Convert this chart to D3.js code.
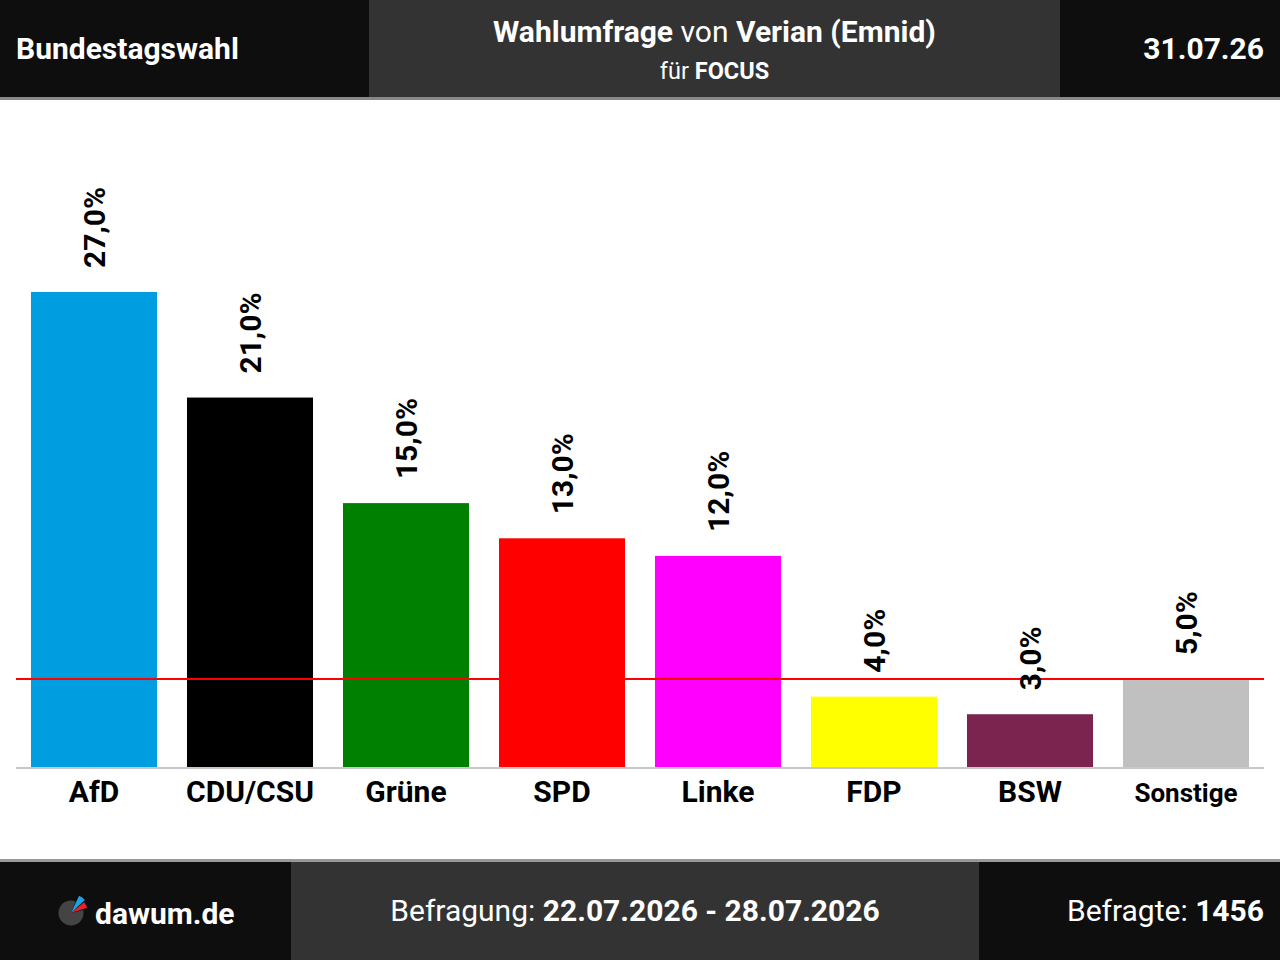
<!DOCTYPE html>
<html>
<head>
<meta charset="utf-8">
<script src="https://cdn.jsdelivr.net/npm/d3@7"></script>
<style>
  html, body { margin: 0; padding: 0; background: #fff; }
  svg { display: block; font-family: Roboto, "Noto Sans", sans-serif; }
</style>
</head>
<body>
<script>
// données du sondage
const parteien = ["AfD", "CDU/CSU", "Grüne", "SPD", "Linke", "FDP", "BSW", "Sonstige"];
const werte = [27, 21, 15, 13, 12, 4, 3, 5];
const farben = ["#009ee0", "#000000", "#008000", "#ff0000", "#ff00ff", "#ffff00", "#7b2450", "#c0c0c0"];
const huerde = 5;

const titel = "Bundestagswahl";
const datum = "31.07.26";
const institut = "Verian (Emnid)";
const auftraggeber = "FOCUS";
const zeitraum = "22.07.2026 - 28.07.2026";
const befragte = "1456";

const largeur = 1280;
const hauteur = 960;

const svg = d3.select("body")
  .append("svg")
  .attr("width", largeur)
  .attr("height", hauteur);

// l'en-tête
svg.append("rect").attr("x", 0).attr("y", 0).attr("width", largeur).attr("height", 98).attr("fill", "#0e0e0e");
svg.append("rect").attr("x", 369).attr("y", 0).attr("width", 691).attr("height", 98).attr("fill", "#333333");
svg.append("rect").attr("x", 0).attr("y", 97).attr("width", largeur).attr("height", 3).attr("fill", "#888888");

svg.append("text")
  .attr("x", 16).attr("y", 59)
  .attr("fill", "#fff")
  .style("font-size", "30px")
  .style("font-weight", "bold")
  .text(titel);

svg.append("text")
  .attr("x", 1264).attr("y", 59)
  .attr("text-anchor", "end")
  .attr("fill", "#fff")
  .style("font-size", "30px")
  .style("font-weight", "bold")
  .text(datum);

const kopf = svg.append("text")
  .attr("x", 714.5).attr("y", 42)
  .attr("text-anchor", "middle")
  .attr("fill", "#fff")
  .style("font-size", "30px");
kopf.append("tspan").style("font-weight", "bold").text("Wahlumfrage");
kopf.append("tspan").text(" von ");
kopf.append("tspan").style("font-weight", "bold").text(institut);

const unter = svg.append("text")
  .attr("x", 714.5).attr("y", 79)
  .attr("text-anchor", "middle")
  .attr("fill", "#fff")
  .style("font-size", "23.5px");
unter.append("tspan").text("für ");
unter.append("tspan").style("font-weight", "bold").text(auftraggeber);

// le graphique
const x = d3.scaleBand()
  .domain(parteien)
  .range([16, 1264])
  .paddingInner(0.192)
  .paddingOuter(0.096);

const y = d3.scaleLinear()
  .domain([0, 27])
  .range([767, 292]);

svg.append("g")
  .selectAll("rect")
  .data(parteien)
  .join("rect")
  .attr("x", d => x(d))
  .attr("y", (d, i) => y(werte[i]))
  .attr("width", x.bandwidth())
  .attr("height", (d, i) => y(0) - y(werte[i]))
  .attr("fill", (d, i) => farben[i]);

// ligne de base
svg.append("line")
  .attr("x1", 16).attr("x2", 1264)
  .attr("y1", y(0) + 1).attr("y2", y(0) + 1)
  .attr("stroke", "#c8c8c8")
  .attr("stroke-width", 2);

// 5%-Hürde
svg.append("line")
  .attr("x1", 16).attr("x2", 1264)
  .attr("y1", y(huerde)).attr("y2", y(huerde))
  .attr("stroke", "#ff0000")
  .attr("stroke-width", 2);

// valeurs
svg.append("g")
  .selectAll("text")
  .data(parteien)
  .join("text")
  .attr("transform", (d, i) => `translate(${x(d) + x.bandwidth() / 2}, ${y(werte[i]) - 24}) rotate(-90)`)
  .attr("dy", "0.35em")
  .attr("fill", "#000")
  .style("font-size", "30px")
  .style("font-weight", "bold")
  .text((d, i) => werte[i].toFixed(1).replace(".", ",") + "%");

// noms des partis
svg.append("g")
  .selectAll("text")
  .data(parteien)
  .join("text")
  .attr("x", d => x(d) + x.bandwidth() / 2)
  .attr("y", 802)
  .attr("text-anchor", "middle")
  .attr("fill", "#000")
  .style("font-size", d => d === "Sonstige" ? "26px" : "30px")
  .style("font-weight", "bold")
  .text(d => d);

// le pied de page
svg.append("rect").attr("x", 0).attr("y", 859).attr("width", largeur).attr("height", 3).attr("fill", "#999999");
svg.append("rect").attr("x", 0).attr("y", 862).attr("width", largeur).attr("height", 98).attr("fill", "#0e0e0e");
svg.append("rect").attr("x", 291).attr("y", 862).attr("width", 688).attr("height", 98).attr("fill", "#333333");

// logo
const logo = svg.append("g").attr("transform", "translate(71, 913)");
const arc = d3.arc();
logo.append("path")
  .attr("d", arc({ innerRadius: 0, outerRadius: 12.5, startAngle: Math.PI * 0.42, endAngle: Math.PI * 2.12 }))
  .attr("fill", "#444444");
logo.append("path")
  .attr("d", arc({ innerRadius: 0, outerRadius: 19, startAngle: Math.PI * 0.14, endAngle: Math.PI * 0.26 }))
  .attr("fill", "#1aa3e8");
logo.append("path")
  .attr("d", arc({ innerRadius: 0, outerRadius: 17, startAngle: Math.PI * 0.28, endAngle: Math.PI * 0.40 }))
  .attr("fill", "#e8202a");

svg.append("text")
  .attr("x", 95).attr("y", 924)
  .attr("fill", "#fff")
  .style("font-size", "30px")
  .style("font-weight", "bold")
  .text("dawum.de");

const fuss = svg.append("text")
  .attr("x", 635).attr("y", 921)
  .attr("text-anchor", "middle")
  .attr("fill", "#fff")
  .style("font-size", "30px");
fuss.append("tspan").text("Befragung: ");
fuss.append("tspan").style("font-weight", "bold").text(zeitraum);

const anzahl = svg.append("text")
  .attr("x", 1264).attr("y", 921)
  .attr("text-anchor", "end")
  .attr("fill", "#fff")
  .style("font-size", "30px");
anzahl.append("tspan").text("Befragte: ");
anzahl.append("tspan").style("font-weight", "bold").text(befragte);
</script>
</body>
</html>
